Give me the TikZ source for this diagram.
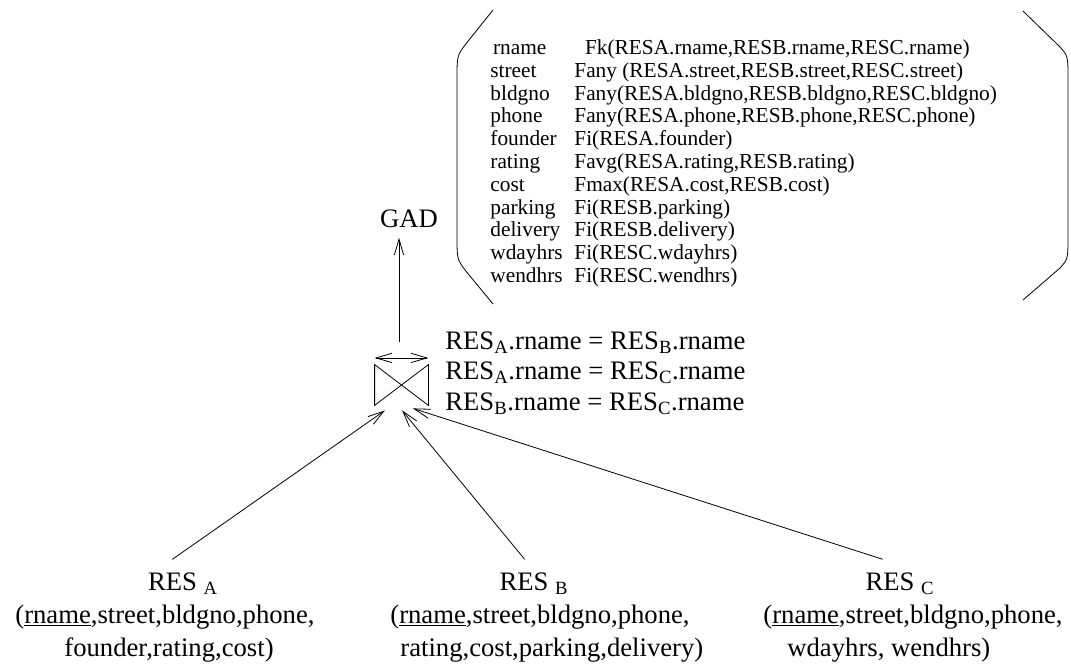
\documentclass[tikz,border=0pt]{standalone}
\usepackage{fontspec}
\setmainfont{Liberation Serif}
\usetikzlibrary{arrows.meta}

\begin{document}
\begin{tikzpicture}[x=0.75pt, y=-0.75pt, line width=0.6pt,
  >={Straight Barb[length=12pt,width=7pt]},
  big/.style = {inner sep=0pt, font=\fontsize{20}{22.9}\selectfont},
  small/.style = {inner sep=0pt, font=\fontsize{16}{17.1}\selectfont}]
\useasboundingbox (0,0) rectangle (1071,668);

% join operator
\node[minimum width=39.75pt, minimum height=30pt, inner sep=0pt] (join) at (401.5,385) {};
\draw (join.north west) -- (join.south east) -- (join.north east) -- (join.south west) -- cycle;
\draw[<->] ([yshift=5pt]join.north west) -- ([yshift=5pt]join.north east);
\node[big, anchor=west, align=left] (cond) at (445,373)
  {RES\textsubscript{A}.rname = RES\textsubscript{B}.rname\\
   RES\textsubscript{A}.rname = RES\textsubscript{C}.rname\\
   RES\textsubscript{B}.rname = RES\textsubscript{C}.rname};

% GAD with its mapping
\coordinate (jtop) at (399,342);
\node[big, inner ysep=7pt] (gad) at (409,219) {GAD};
\draw[->] (jtop) -- (jtop |- gad.south);
\node[small, anchor=west] (map) at (490,164) {\begin{tabular}{@{}p{63pt}@{}l@{}}
  \hspace*{2pt}rname & \hspace*{8pt}Fk(RESA.rname,RESB.rname,RESC.rname)\\
  street & Fany (RESA.street,RESB.street,RESC.street)\\
  bldgno & Fany(RESA.bldgno,RESB.bldgno,RESC.bldgno)\\
  phone & Fany(RESA.phone,RESB.phone,RESC.phone)\\
  founder & Fi(RESA.founder)\\
  rating & Favg(RESA.rating,RESB.rating)\\
  cost & Fmax(RESA.cost,RESB.cost)\\
  parking & Fi(RESB.parking)\\
  delivery & Fi(RESB.delivery)\\
  wdayhrs & Fi(RESC.wdayhrs)\\
  wendhrs & Fi(RESC.wendhrs)
\end{tabular}};
\draw (493,10) -- (465,45) .. controls (457,56) .. (457,80) -- (457,235)
  .. controls (457,259) .. (465,270) -- (493,304);
\draw (1023,11) -- (1060,47) .. controls (1068,56) .. (1068,80) -- (1068,235)
  .. controls (1068,259) .. (1060,268) -- (1023,300);

% source relations
\node[big] (resa) at (183,584) {RES \textsubscript{A}};
\node[big, anchor=west] (resa1) at (15,617) {(\underline{rname},street,bldgno,phone,};
\node[big, anchor=west] (resa2) at (64,650) {founder,rating,cost)};
\node[big] (resb) at (534,584) {RES \textsubscript{B}};
\node[big, anchor=west] (resb1) at (390,617) {(\underline{rname},street,bldgno,phone,};
\node[big, anchor=west] (resb2) at (400,650) {rating,cost,parking,delivery)};
\node[big] (resc) at (900,584) {RES \textsubscript{C}};
\node[big, anchor=west] (resc1) at (763,617) {(\underline{rname},street,bldgno,phone,};
\node[big, anchor=west] (resc2) at (787,650) {wdayhrs, wendhrs)};

\draw[->] ([xshift=-8pt, yshift=10pt]resa.north) -- ([xshift=-12.4pt, yshift=-3.75pt]join.south);
\draw[->] ([xshift=-7pt, yshift=10pt]resb.north) -- ([xshift=0.4pt, yshift=-3.75pt]join.south);
\draw[->] ([xshift=-13pt, yshift=10pt]resc.north) -- ([xshift=8.6pt, yshift=-2.25pt]join.south);
\end{tikzpicture}
\end{document}
